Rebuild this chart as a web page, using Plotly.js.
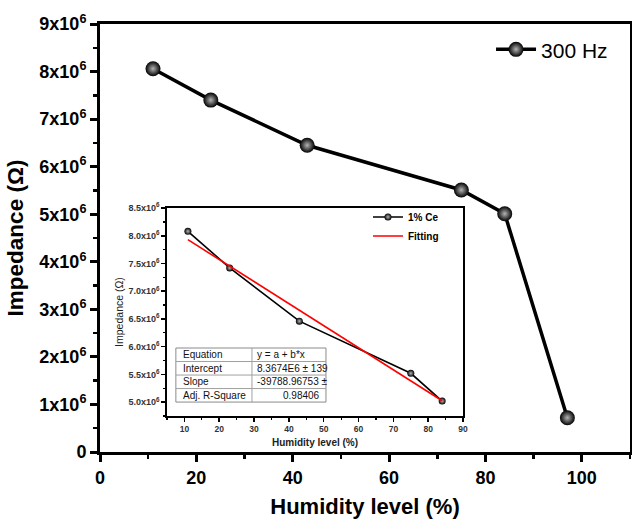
<!DOCTYPE html>
<html><head><meta charset="utf-8">
<script src="https://cdn.plot.ly/plotly-3.0.1.min.js"></script>
<style>html,body{margin:0;padding:0;background:#fff}</style>
</head><body><div id="chart" style="width:632px;height:519px"></div>
<script>
// ---- data ----
const humidity = [11, 23, 43, 75, 84, 97];
const impedance300Hz = [8.06e6, 7.40e6, 6.45e6, 5.51e6, 5.01e6, 0.72e6];
const insetHumidity = [11, 23, 43, 75, 84];
const insetImpedance = [8.08e6, 7.42e6, 6.46e6, 5.52e6, 5.02e6];
const fitIntercept = 8.3674e6;
const fitSlope = -39788.96753;
const fitRange = [11, 84];
const mainYTickVals = [0, 1e6, 2e6, 3e6, 4e6, 5e6, 6e6, 7e6, 8e6, 9e6];
const mainYTickText = ["0", "1x10<sup>6</sup>", "2x10<sup>6</sup>", "3x10<sup>6</sup>", "4x10<sup>6</sup>",
  "5x10<sup>6</sup>", "6x10<sup>6</sup>", "7x10<sup>6</sup>", "8x10<sup>6</sup>", "9x10<sup>6</sup>"];
const mainXTickVals = [0, 20, 40, 60, 80, 100];
const insetYTickVals = [5.0e6, 5.5e6, 6.0e6, 6.5e6, 7.0e6, 7.5e6, 8.0e6, 8.5e6];
const insetYTickText = ["5.0x10<sup>6</sup>", "5.5x10<sup>6</sup>", "6.0x10<sup>6</sup>", "6.5x10<sup>6</sup>",
  "7.0x10<sup>6</sup>", "7.5x10<sup>6</sup>", "8.0x10<sup>6</sup>", "8.5x10<sup>6</sup>"];
const insetXTickVals = [10, 20, 30, 40, 50, 60, 70, 80, 90];
const tableLabels = ["Equation", "Intercept", "Slope", "Adj. R-Square"];
const tableValues = ["y = a + b*x", "8.3674E6 ± 139", "-39788.96753 ±", "0.98406"];

const fitY = fitRange.map(x => fitIntercept + fitSlope * x);

const traces = [
  {
    x: humidity, y: impedance300Hz, type: 'scatter', mode: 'lines+markers', name: '300 Hz',
    line: {color: 'black', width: 3.5},
    marker: {color: 'black', size: 15, gradient: {type: 'radial', color: '#b4b4b4'}, line: {width: 0}},
    xaxis: 'x', yaxis: 'y', legend: 'legend'
  },
  {
    x: insetHumidity, y: insetImpedance, type: 'scatter', mode: 'lines+markers', name: '1% Ce',
    line: {color: 'black', width: 1.6},
    marker: {color: 'black', size: 7, gradient: {type: 'radial', color: '#b4b4b4'}, line: {width: 0}},
    xaxis: 'x2', yaxis: 'y2', legend: 'legend2'
  },
  {
    x: fitRange, y: fitY, type: 'scatter', mode: 'lines', name: 'Fitting',
    line: {color: '#ff0000', width: 1.6},
    xaxis: 'x2', yaxis: 'y2', legend: 'legend2'
  }
];

// table geometry (inset domain fractions)
const tx0 = 0.030, tx1 = 0.287, tx2 = 0.537;
const ty0 = 0.067, ty1 = 0.327;
const shapes = [];
const annotations = [];
const rowH = (ty1 - ty0) / tableLabels.length;
shapes.push({type: 'rect', xref: 'x2 domain', yref: 'y2 domain', x0: tx0, x1: tx2, y0: ty0, y1: ty1,
  line: {color: '#8a8a8a', width: 1}, fillcolor: 'white', layer: 'above'});
for (let i = 1; i < tableLabels.length; i++) {
  shapes.push({type: 'line', xref: 'x2 domain', yref: 'y2 domain', x0: tx0, x1: tx2,
    y0: ty1 - i * rowH, y1: ty1 - i * rowH, line: {color: '#a0a0a0', width: 1}});
}
shapes.push({type: 'line', xref: 'x2 domain', yref: 'y2 domain', x0: tx1, x1: tx1, y0: ty0, y1: ty1,
  line: {color: '#a0a0a0', width: 1}});
tableLabels.forEach((t, i) => {
  const yc = ty1 - (i + 0.5) * rowH;
  annotations.push({xref: 'x2 domain', yref: 'y2 domain', x: tx0 + 0.017, y: yc, text: t, showarrow: false,
    xanchor: 'left', yanchor: 'middle', font: {family: 'Arial, Liberation Sans', size: 10, color: '#111'}});
  const right = i === tableValues.length - 1;
  annotations.push({xref: 'x2 domain', yref: 'y2 domain', x: right ? tx2 - 0.015 : tx1 + 0.01, y: yc,
    text: tableValues[i], showarrow: false, xanchor: right ? 'right' : 'left', yanchor: 'middle',
    font: {family: 'Arial, Liberation Sans', size: 10, color: '#111'}});
});

const F = 'Arial, Liberation Sans, sans-serif';
const layout = {
  width: 632, height: 519,
  margin: {l: 100, r: 2, t: 24, b: 67},
  paper_bgcolor: 'white', plot_bgcolor: 'white',
  showlegend: true,
  xaxis: {
    domain: [0, 1], range: [0, 110], anchor: 'y',
    tickvals: mainXTickVals, ticks: 'outside', ticklen: 7, tickwidth: 3, tickcolor: 'black',
    minor: {tick0: 0, dtick: 10, ticks: 'outside', ticklen: 4, tickwidth: 2.5, tickcolor: 'black'},
    showline: true, linewidth: 3, linecolor: 'black', mirror: true, showgrid: false, zeroline: false,
    tickfont: {family: F, size: 18, color: 'black', weight: 'bold'},
    title: {text: '<b>Humidity level (%)</b>', font: {family: F, size: 22, color: 'black'}, standoff: 16}
  },
  yaxis: {
    domain: [0, 1], range: [0, 9e6], anchor: 'x',
    tickvals: mainYTickVals, ticktext: mainYTickText, ticks: 'outside', ticklen: 7, tickwidth: 3, tickcolor: 'black',
    minor: {tick0: 0, dtick: 5e5, ticks: 'outside', ticklen: 4, tickwidth: 2.5, tickcolor: 'black'},
    showline: true, linewidth: 3, linecolor: 'black', mirror: true, showgrid: false, zeroline: false,
    tickfont: {family: F, size: 18, color: 'black', weight: 'bold'},
    title: {text: '<b>Impedance (Ω)</b>', font: {family: F, size: 22.5, color: 'black'}, standoff: 10}
  },
  xaxis2: {
    domain: [0.1264, 0.685], range: [5, 90], anchor: 'y2',
    tickvals: insetXTickVals, ticks: 'outside', ticklen: 4, tickwidth: 1.5, tickcolor: 'black',
    minor: {tick0: 5, dtick: 5, ticks: 'outside', ticklen: 2.5, tickwidth: 1.2, tickcolor: 'black'},
    showline: true, linewidth: 1.6, linecolor: 'black', mirror: true, showgrid: false, zeroline: false,
    tickfont: {family: F, size: 8.5, color: '#333', weight: 'bold'},
    title: {text: '<b>Humidity level (%)</b>', font: {family: F, size: 10, color: '#222'}, standoff: 6}
  },
  yaxis2: {
    domain: [0.0841, 0.570], range: [4.75e6, 8.5e6], anchor: 'x2',
    tickvals: insetYTickVals, ticktext: insetYTickText, ticks: 'outside', ticklen: 4, tickwidth: 1.5, tickcolor: 'black',
    minor: {tick0: 4.75e6, dtick: 2.5e5, ticks: 'outside', ticklen: 2.5, tickwidth: 1.2, tickcolor: 'black'},
    showline: true, linewidth: 1.6, linecolor: 'black', mirror: true, showgrid: false, zeroline: false,
    tickfont: {family: F, size: 9, color: '#333', weight: 'bold'},
    title: {text: 'Impedance (Ω)', font: {family: F, size: 10.5, color: '#222'}, standoff: 3}
  },
  legend: {
    x: 0.968, y: 0.94, xanchor: 'right', yanchor: 'middle', bgcolor: 'rgba(0,0,0,0)',
    font: {family: F, size: 21, color: 'black'}, itemwidth: 40
  },
  legend2: {
    x: 0.649, y: 0.527, xanchor: 'right', yanchor: 'middle', bgcolor: 'rgba(0,0,0,0)',
    font: {family: F, size: 10, color: 'black', weight: 'bold'}, itemwidth: 30, tracegroupgap: 0
  },
  shapes: shapes,
  annotations: annotations
};

Plotly.newPlot('chart', traces, layout, {displayModeBar: false, staticPlot: true});
</script></body></html>
